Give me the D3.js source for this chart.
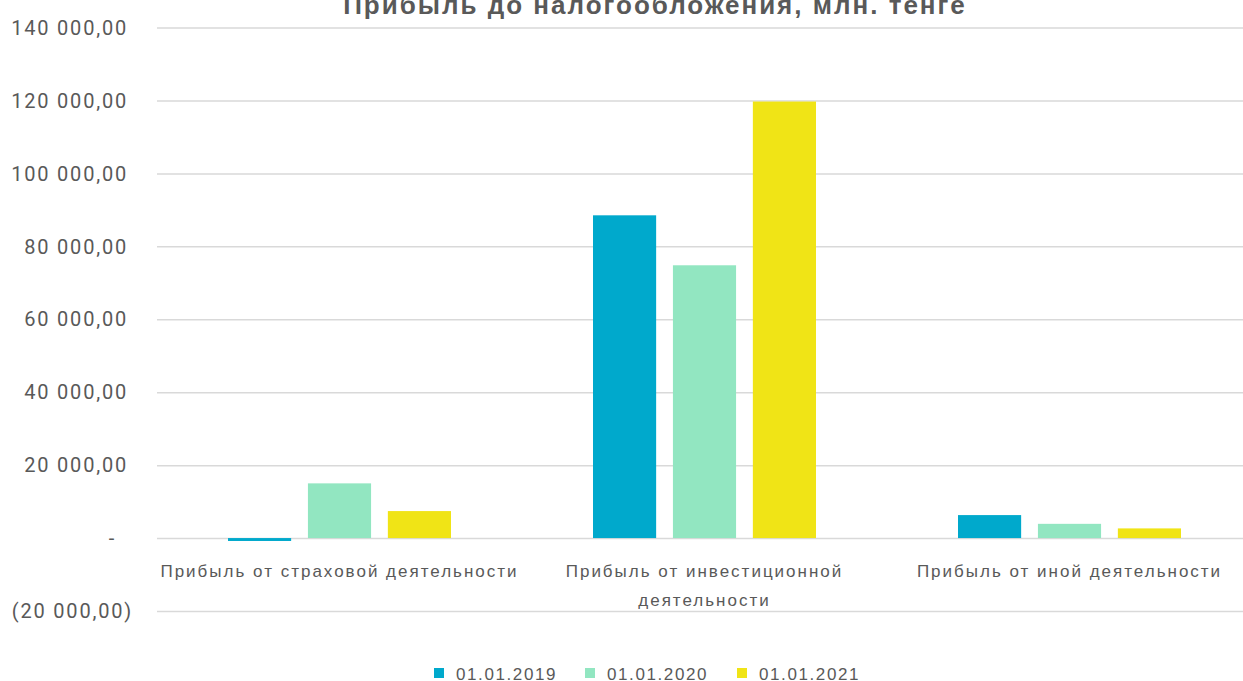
<!DOCTYPE html>
<html><head><meta charset="utf-8">
<script src="https://cdn.jsdelivr.net/npm/d3@7"></script>
<style>body{margin:0;background:#fff;overflow:hidden}svg{display:block}</style>
</head><body>
<svg id="c" width="1243" height="681"></svg>
<script>
const title = "Прибыль до налогообложения, млн. тенге";
const categories = ["Прибыль от страховой деятельности", "Прибыль от инвестиционной деятельности", "Прибыль от иной деятельности"];
const categoryLines = [["Прибыль от страховой деятельности"], ["Прибыль от инвестиционной", "деятельности"], ["Прибыль от иной деятельности"]];
const seriesNames = ["01.01.2019", "01.01.2020", "01.01.2021"];
const values2019 = [-800, 88500, 6300];
const values2020 = [15000, 74800, 3900];
const values2021 = [7400, 119700, 2650];
const yTicks = [-20000, 0, 20000, 40000, 60000, 80000, 100000, 120000, 140000];
const yTickLabels = ["(20 000,00)", "-", "20 000,00", "40 000,00", "60 000,00", "80 000,00", "100 000,00", "120 000,00", "140 000,00"];
const colors = ["#00A9CC", "#92E6C1", "#F0E416"];

const seriesValues = [values2019, values2020, values2021];
const svg = d3.select("#c");
const pLeft = 157, pRight = 1252, pTop = 27.5, pBottom = 611;
const font = "Liberation Sans, sans-serif";

const y = d3.scaleLinear().domain([-20000, 140000]).range([pBottom, pTop]);
const x0 = d3.scaleBand().domain(categories).range([pLeft, pRight]).padding(0);
const x1 = d3.scaleBand().domain(seriesNames).range([71, 294]).paddingInner(0.21).paddingOuter(0);

// gridlines
const yAxis = d3.axisLeft(y).tickValues(yTicks).tickSize(-(pRight - pLeft)).tickFormat("");
const g = svg.append("g").attr("transform", `translate(${pLeft},0)`).call(yAxis);
g.select(".domain").remove();
g.selectAll(".tick line").attr("stroke", "#D9D9D9").attr("stroke-width", 1.5);

// y labels
svg.append("g").selectAll("text").data(yTicks).join("text")
  .attr("x", (d) => d < 0 ? 133 : (d === 0 ? 116 : 128))
  .attr("y", d => y(d))
  .attr("dy", "0.36em")
  .attr("text-anchor", "end")
  .attr("font-family", "Roboto, sans-serif")
  .attr("font-size", 20)
  .attr("letter-spacing", 1.8)
  .attr("fill", "#595959")
  .text((d, i) => yTickLabels[i]);

// bars
const data = [];
categories.forEach((c, ci) => seriesNames.forEach((s, si) => data.push({c, s, v: seriesValues[si][ci], si})));
svg.append("g").selectAll("rect").data(data).join("rect")
  .attr("x", d => x0(d.c) + x1(d.s))
  .attr("width", x1.bandwidth())
  .attr("y", d => y(Math.max(0, d.v)))
  .attr("height", d => Math.abs(y(d.v) - y(0)))
  .attr("fill", d => colors[d.si]);

// category labels
const catG = svg.append("g");
categories.forEach((c, ci) => {
  categoryLines[ci].forEach((line, li) => {
    catG.append("text")
      .attr("x", x0(c) + x0.bandwidth() / 2)
      .attr("y", 577 + li * 29)
      .attr("text-anchor", "middle")
      .attr("font-family", font)
      .attr("font-size", 17)
      .attr("letter-spacing", 2)
      .attr("fill", "#595959")
      .text(line);
  });
});

// title
svg.append("text")
  .attr("x", 655).attr("y", 14)
  .attr("text-anchor", "middle")
  .attr("font-family", font)
  .attr("font-weight", "bold")
  .attr("font-size", 26)
  .attr("letter-spacing", 2)
  .attr("fill", "#595959")
  .text(title);

// legend
const legX = [434, 585, 737];
const leg = svg.append("g");
seriesNames.forEach((s, i) => {
  leg.append("rect").attr("x", legX[i]).attr("y", 668).attr("width", 10).attr("height", 10).attr("fill", colors[i]);
  leg.append("text").attr("x", legX[i] + 22).attr("y", 680)
    .attr("font-family", font)
    .attr("font-size", 17).attr("letter-spacing", 1.6)
    .attr("fill", "#595959").text(s);
});
</script>
</body></html>
